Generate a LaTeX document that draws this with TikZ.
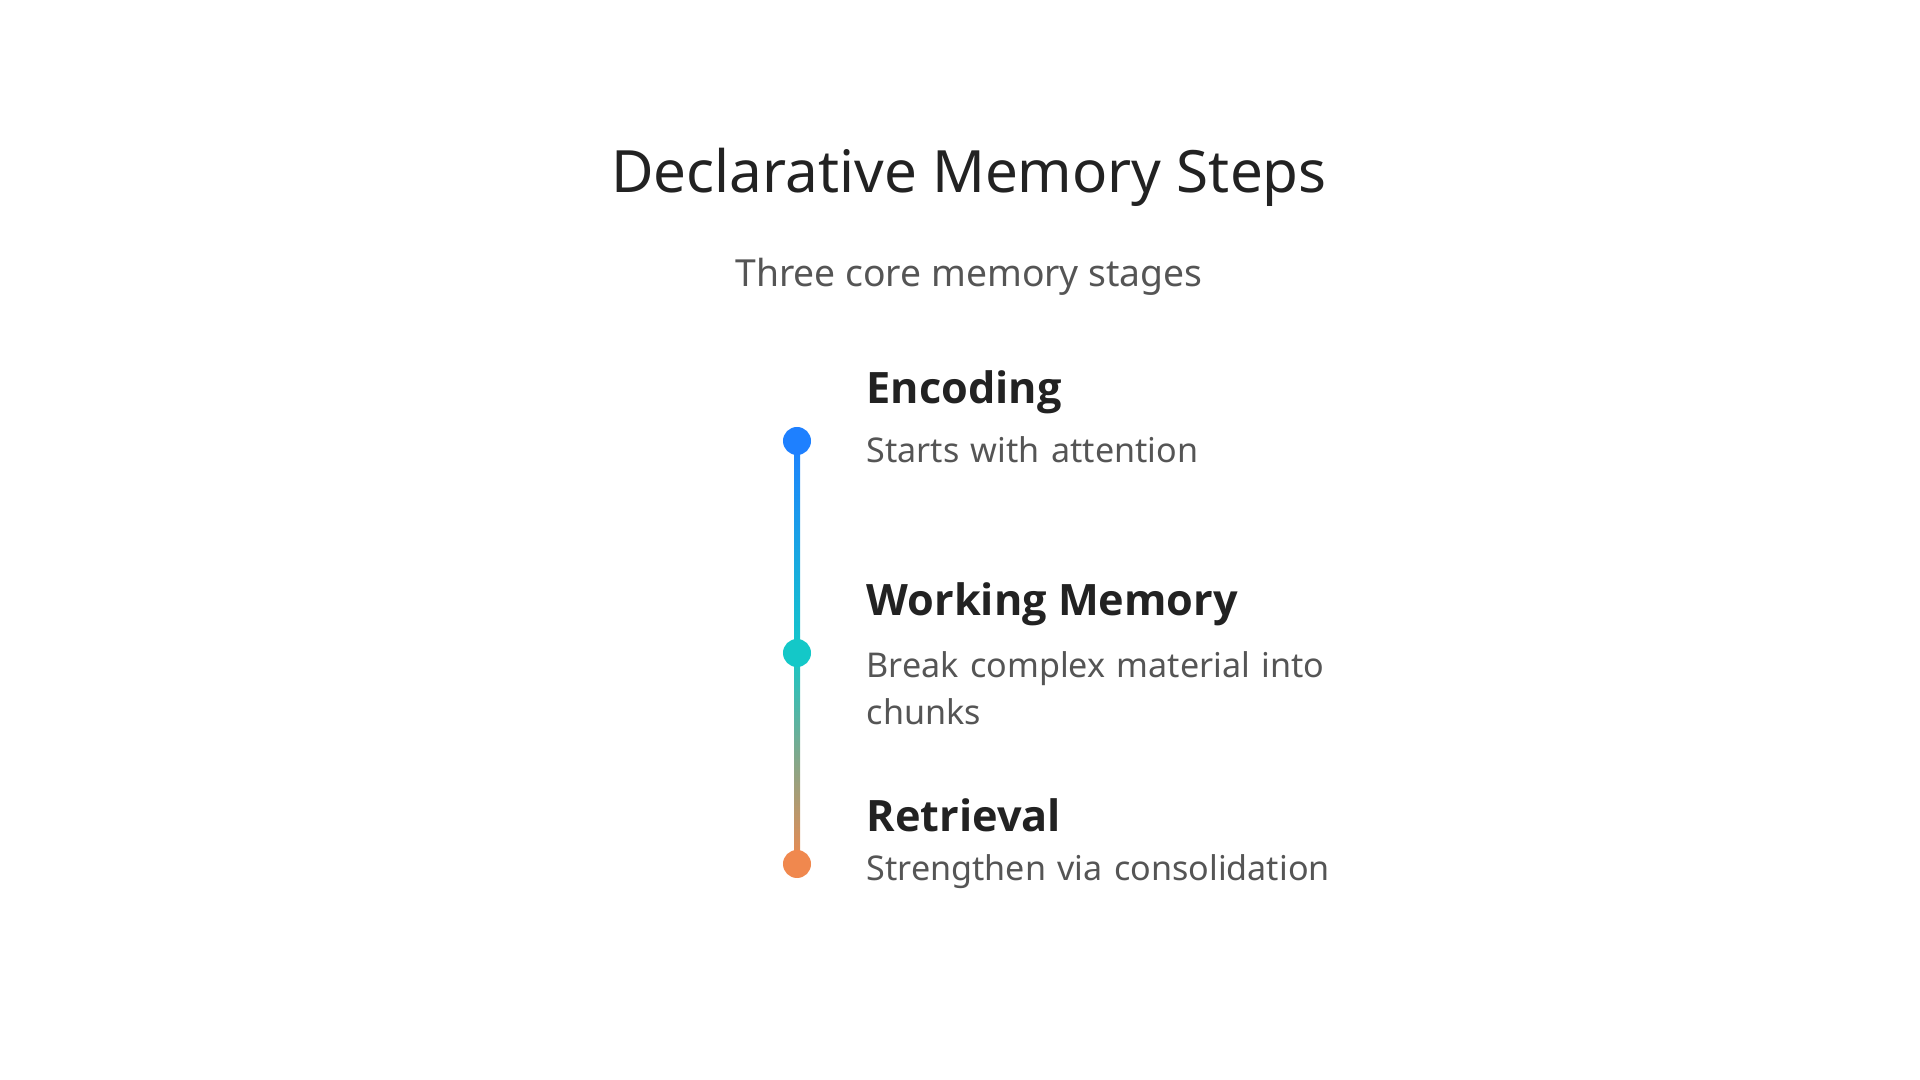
\documentclass[tikz,border=0pt]{standalone}
\usepackage{fontspec}
\setmainfont{Noto Sans}
\newfontfamily\hb{Open Sans}
\definecolor{cblue}{HTML}{1E80FF}
\definecolor{ccyan}{HTML}{14C8C8}
\definecolor{corange}{HTML}{F0884E}
\definecolor{tdark}{HTML}{222222}
\definecolor{tgray}{HTML}{555555}
\begin{document}
\begin{tikzpicture}[x=0.01cm,y=-0.01cm,
  dot/.style={circle,fill=#1,minimum size=0.28cm,inner sep=0pt},
  head/.style={anchor=west,font=\hb\fontsize{12.3}{15}\selectfont\bfseries,text=tdark,inner sep=0pt},
  desc/.style={anchor=west,font=\fontsize{9.7}{13.3}\selectfont,text=tgray,inner sep=0pt,align=left,text width=5.1cm}]
\useasboundingbox (0,0) rectangle (1920,1080);
\node[font=\fontsize{16.6}{20}\selectfont,text=tdark] (title) at (969,177) {Declarative Memory Steps};
\node[font=\fontsize{10.6}{13}\selectfont,text=tgray] (sub) at (969,277) {Three core memory stages};
\coordinate (d1) at (797,441);
\coordinate (d2) at (797,653);
\coordinate (d3) at (797,864);
\shade[top color=cblue,bottom color=ccyan] (794,441) rectangle (800,653);
\shade[top color=ccyan,bottom color=corange] (794,653) rectangle (800,864);
\node[dot=cblue] (n1) at (d1) {};
\node[dot=ccyan] (n2) at (d2) {};
\node[dot=corange] (n3) at (d3) {};
\node[head] (h1) at (866,392) {Encoding};
\node[desc] (t1) at (866,450) {Starts with attention};
\node[head] (h2) at (866,604) {Working Memory};
\node[desc,anchor=north west] (t2) at (866,651) {Break complex material into chunks};
\node[head] (h3) at (866,815) {Retrieval};
\node[desc] (t3) at (866,872) {Strengthen via consolidation};
\end{tikzpicture}
\end{document}
